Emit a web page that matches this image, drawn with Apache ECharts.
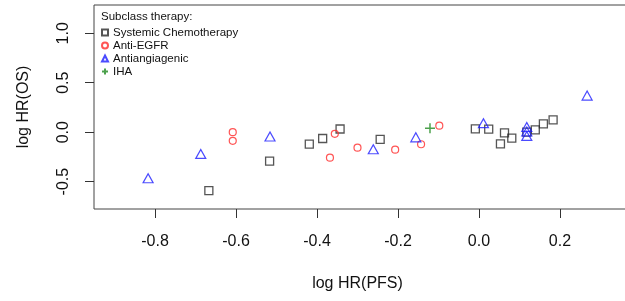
<!DOCTYPE html>
<html>
<head>
<meta charset="utf-8">
<script src="https://cdn.jsdelivr.net/npm/echarts@6/dist/echarts.min.js"></script>
<style>
  html, body { margin: 0; padding: 0; background: #fff; }
  #MyChart { width: 625px; height: 301px; }
</style>
</head>
<body>
<div id="MyChart"></div>
<script>
// 数据
const chemoX = [-0.667, -0.517, -0.419, -0.386, -0.343, -0.244, -0.009, 0.024, 0.063, 0.081, 0.053, 0.118, 0.139, 0.159, 0.183]
const chemoY = [-0.591, -0.293, -0.121, -0.064, 0.032, -0.072, 0.033, 0.030, -0.007, -0.061, -0.118, 0.000, 0.023, 0.084, 0.124]
const egfrX = [-0.608, -0.608, -0.368, -0.356, -0.300, -0.207, -0.143, -0.098]
const egfrY = [0.000, -0.088, -0.258, -0.017, -0.157, -0.177, -0.122, 0.066]
const angioX = [-0.817, -0.687, -0.516, -0.261, -0.156, 0.011, 0.118, 0.118, 0.118, 0.267]
const angioY = [-0.466, -0.220, -0.044, -0.173, -0.052, 0.091, 0.053, 0.007, -0.038, 0.370]
const ihaX = [-0.121]
const ihaY = [0.039]

const xTicks = [-0.8, -0.6, -0.4, -0.2, 0.0, 0.2]
const yTicks = [-0.5, 0.0, 0.5, 1.0]

function pairs (xs, ys) {
  let out = []
  for (let i = 0; i < xs.length; i++) {
    out.push([xs[i], ys[i]])
  }
  return out
}

const font = 'Liberation Sans, Arial, sans-serif'
let myChart = echarts.init(document.getElementById('MyChart'))
let option = {
  animation: false,
  title: {
    text: 'Subclass therapy:',
    left: 101,
    top: 11,
    padding: 0,
    textStyle: { fontFamily: font, fontSize: 11.5, fontWeight: 'normal', color: '#111' }
  },
  legend: {
    orient: 'vertical',
    left: 101,
    top: 26,
    padding: 0,
    itemGap: 0,
    itemWidth: 6,
    itemHeight: 6,
    selectedMode: false,
    textStyle: { fontFamily: font, fontSize: 11.5, color: '#111', lineHeight: 13 },
    data: ['Systemic Chemotherapy', 'Anti-EGFR', 'Antiangiagenic', 'IHA']
  },
  // 右边框在画面之外
  grid: {
    left: 94,
    top: 5,
    width: 535,
    height: 204,
    outerBoundsMode: 'none',
    show: true,
    borderColor: '#444',
    borderWidth: 1
  },
  xAxis: {
    type: 'value',
    min: -0.9506,
    max: 0.3704,
    name: 'log HR(PFS)',
    nameLocation: 'middle',
    nameGap: 67,
    nameTextStyle: { fontFamily: font, fontSize: 16, color: '#111', padding: [0, 8, 0, 0] },
    splitLine: { show: false },
    axisLine: { show: false, onZero: false },
    axisTick: { customValues: xTicks, length: 9, lineStyle: { color: '#333' } },
    axisLabel: {
      customValues: xTicks,
      margin: 25,
      fontFamily: font,
      fontSize: 16,
      color: '#111',
      formatter: v => v.toFixed(1)
    }
  },
  yAxis: {
    type: 'value',
    min: -0.777,
    max: 1.286,
    name: 'log HR(OS)',
    nameLocation: 'middle',
    nameGap: 62,
    nameTextStyle: { fontFamily: font, fontSize: 16, color: '#111' },
    splitLine: { show: false },
    axisLine: { show: false, onZero: false },
    axisTick: { customValues: yTicks, length: 9, lineStyle: { color: '#333' } },
    axisLabel: {
      customValues: yTicks,
      rotate: 90,
      margin: 22,
      fontFamily: font,
      fontSize: 16,
      color: '#111',
      formatter: v => v.toFixed(1)
    }
  },
  series: [
    {
      name: 'Systemic Chemotherapy',
      type: 'scatter',
      symbol: 'rect',
      symbolSize: 8,
      itemStyle: { color: 'rgba(0,0,0,0)', borderColor: '#2a2a2a', borderWidth: 1.3 },
      data: pairs(chemoX, chemoY)
    },
    {
      name: 'Anti-EGFR',
      type: 'scatter',
      symbol: 'circle',
      symbolSize: 7,
      itemStyle: { color: 'rgba(0,0,0,0)', borderColor: '#ff2a2a', borderWidth: 1.2 },
      data: pairs(egfrX, egfrY)
    },
    {
      name: 'Antiangiagenic',
      type: 'scatter',
      symbol: 'triangle',
      symbolSize: [10, 9],
      itemStyle: { color: 'rgba(0,0,0,0)', borderColor: '#1e1eff', borderWidth: 1.2 },
      data: pairs(angioX, angioY)
    },
    {
      name: 'IHA',
      type: 'scatter',
      symbol: 'path://M0,5L10,5M5,0L5,10',
      symbolSize: 10,
      itemStyle: { color: 'rgba(0,0,0,0)', borderColor: '#1f8a1f', borderWidth: 1.5 },
      data: pairs(ihaX, ihaY)
    }
  ]
}
myChart.setOption(option)
</script>
</body>
</html>
